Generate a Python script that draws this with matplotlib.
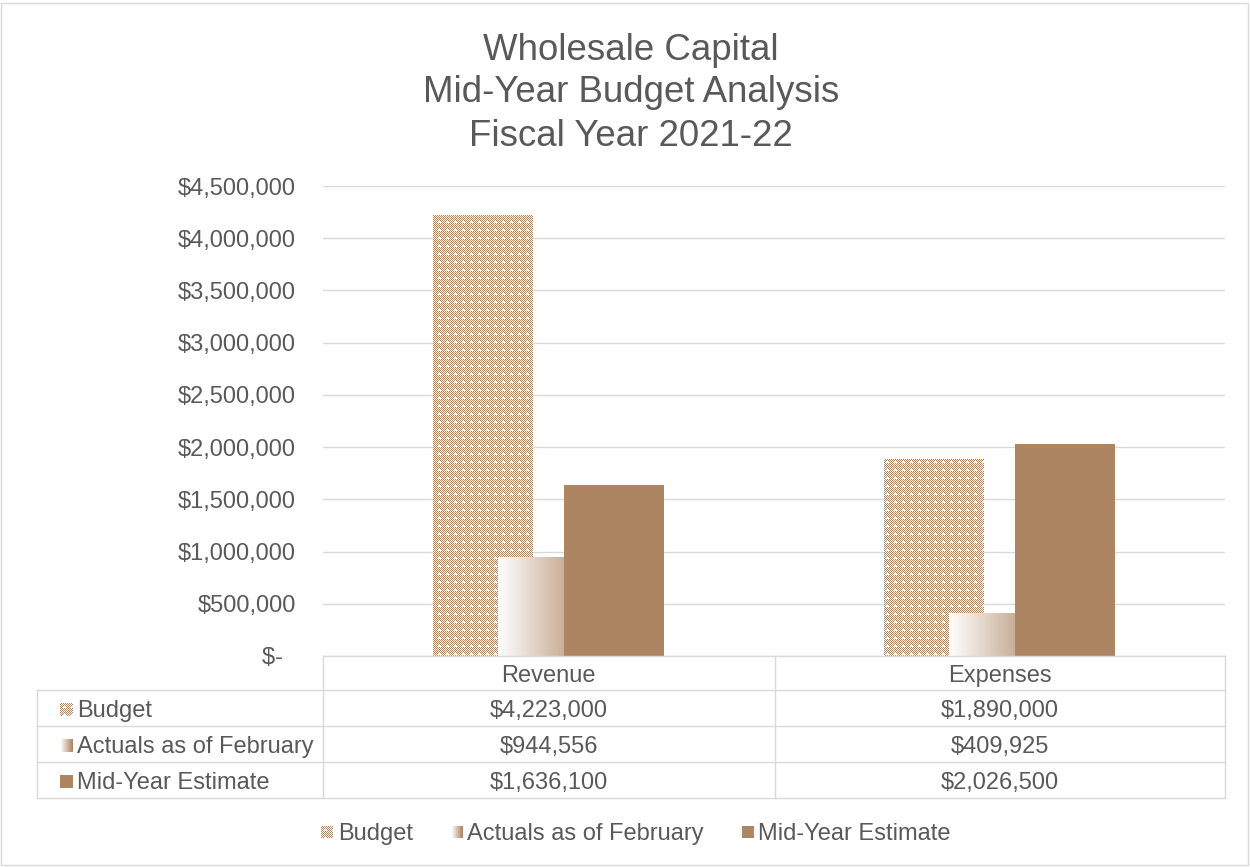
import numpy as np
import matplotlib
matplotlib.use('Agg')
import matplotlib.pyplot as plt
from matplotlib.patches import Rectangle
from matplotlib.lines import Line2D
from matplotlib.legend_handler import HandlerBase
from matplotlib.ticker import FuncFormatter

plt.rcParams['font.family'] = ['Liberation Sans', 'DejaVu Sans']

# ---------------- data ----------------
categories = ['Revenue', 'Expenses']
series = ['Budget', 'Actuals as of February', 'Mid-Year Estimate']
budget = [4223000, 1890000]
actuals = [944556, 409925]
midyear = [1636100, 2026500]
yticks = [0, 500000, 1000000, 1500000, 2000000, 2500000, 3000000, 3500000, 4000000, 4500000]
title_lines = ['Wholesale Capital', 'Mid-Year Budget Analysis', 'Fiscal Year 2021-22']

# ---------------- style ----------------
BROWN = np.array([174, 133, 99]) / 255.0
WHITE = np.array([1.0, 1.0, 1.0])
TXT = '#595959'
GRID = '#D9D9D9'
FS = 17

W, H = 1250, 867
fig = plt.figure(figsize=(W / 100, H / 100), dpi=100)


def fx(px):
    return px / W


def fy(py):
    return 1 - py / H


def pattern_mask(h, w, phase=1):
    yy, xx = np.mgrid[0:h, 0:w]
    brown = ((xx + yy) % 2 == phase)
    mx, my = xx % 8, yy % 8
    cross = ((mx == 4) & np.isin(my, [2, 3, 4])) | ((my == 4) & np.isin(mx, [3, 4, 5]))
    return brown & ~cross


def pattern(h, w, phase=1):
    return np.where(pattern_mask(h, w, phase)[..., None], BROWN, WHITE)


def gradient(w):
    t = np.linspace(0, 1, max(w, 2))
    row = WHITE[None, :] * (1 - t[:, None]) + BROWN[None, :] * t[:, None]
    return row[None, :, :]


# ---------------- axes ----------------
ax_l, ax_r, ax_b, ax_t = 323, 1225, 656, 186
ax = fig.add_axes([fx(ax_l), fy(ax_b), fx(ax_r) - fx(ax_l), fy(ax_t) - fy(ax_b)])
xlim = (-0.5, 1.5)
ylim = (0, 4500000)
px_per_x = (ax_r - ax_l) / (xlim[1] - xlim[0])

x = np.arange(len(categories))
off, bw = 0.146, 0.222

b1 = ax.bar(x - off, budget, bw, facecolor='none', edgecolor='none', zorder=2)
b2 = ax.bar(x, actuals, bw, facecolor='none', edgecolor='none', zorder=2.1)
b3 = ax.bar(x + off, midyear, bw, color=BROWN, edgecolor='none', zorder=2.2)

# one pixel-aligned RGBA texture covering the whole plot area; opaque only inside budget bars
ph, pw = ax_b - ax_t, ax_r - ax_l
tex = np.zeros((ph, pw, 4))
tex[..., :3] = pattern(ph, pw)
cx_data = xlim[0] + (np.arange(pw) + 0.5) / pw * (xlim[1] - xlim[0])
cy_data = ylim[1] - (np.arange(ph) + 0.5) / ph * (ylim[1] - ylim[0])
inside = np.zeros((ph, pw), dtype=bool)
for rect in b1:
    x0, w_, h_ = rect.get_x(), rect.get_width(), rect.get_height()
    inside |= ((cx_data[None, :] >= x0) & (cx_data[None, :] < x0 + w_)
               & (cy_data[:, None] <= h_))
tex[..., 3] = inside.astype(float)
ax.imshow(tex, extent=(xlim[0], xlim[1], ylim[0], ylim[1]), aspect='auto',
          interpolation='nearest', interpolation_stage='rgba', zorder=2, origin='upper')

for rect in b2:
    x0, w_, h_ = rect.get_x(), rect.get_width(), rect.get_height()
    img = gradient(int(round(w_ * px_per_x)))
    im = ax.imshow(img, extent=(x0, x0 + w_, 0, h_), aspect='auto',
                   interpolation='bilinear', zorder=2.1)
    im.set_clip_path(rect)

ax.set_xlim(*xlim)
ax.set_ylim(*ylim)
ax.set_yticks(yticks)
ax.yaxis.set_major_formatter(FuncFormatter(lambda v, p: '$-  ' if v == 0 else f'${v:,.0f}'))
ax.tick_params(axis='y', length=0, pad=19.4, labelsize=FS, labelcolor=TXT)
ax.set_xticks([])
ax.yaxis.grid(True, color=GRID, lw=1.0)
ax.set_axisbelow(True)
for s in ['top', 'left', 'right']:
    ax.spines[s].set_visible(False)
ax.spines['bottom'].set_color(GRID)
ax.spines['bottom'].set_linewidth(1.0)

# ---------------- title ----------------
for i, line in enumerate(title_lines):
    fig.text(fx(631), fy(50 + 43 * i), line, ha='center', va='center',
             fontsize=26.4, color=TXT)

# ---------------- data table ----------------
def hline(y, x0, x1):
    fig.add_artist(Line2D([fx(x0), fx(x1)], [fy(y), fy(y)], transform=fig.transFigure,
                          color=GRID, lw=1.0))


def vline(xp, y0, y1):
    fig.add_artist(Line2D([fx(xp), fx(xp)], [fy(y0), fy(y1)], transform=fig.transFigure,
                          color=GRID, lw=1.0))


rows_y = [690, 726, 762, 798]
for yy in rows_y:
    hline(yy, 37, 1225)
for xp in [323, 775, 1225]:
    vline(xp, 656, 798)
vline(37, 690, 798)

col_centers = [ax_l + (c - xlim[0]) * px_per_x for c in x]
for cx, cat in zip(col_centers, categories):
    fig.text(fx(cx), fy(676), cat, ha='center', va='center', fontsize=FS, color=TXT)

table_vals = [budget, actuals, midyear]
mk = 13
marker_imgs = [pattern(mk, mk, 1), np.repeat(gradient(mk), mk, axis=0),
               np.tile(BROWN, (mk, mk, 1))]
for r, (name, vals) in enumerate(zip(series, table_vals)):
    yc = (rows_y[r] + rows_y[r + 1]) / 2
    fig.text(fx(77), fy(yc + 3), name, ha='left', va='center', fontsize=FS, color=TXT)
    for cx, v in zip(col_centers, vals):
        fig.text(fx(cx), fy(yc + 3), f'${v:,.0f}', ha='center', va='center',
                 fontsize=FS, color=TXT)
    max_ = fig.add_axes([fx(60), fy(yc + 8), mk / W, mk / H])
    max_.imshow(marker_imgs[r], aspect='auto', interpolation='nearest')
    max_.axis('off')

# ---------------- legend ----------------
class ImgHandler(HandlerBase):
    def __init__(self, arr, size_pt):
        super().__init__()
        self.arr = arr
        self.size = size_pt

    def create_artists(self, legend, orig_handle, xdescent, ydescent, width, height,
                       fontsize, trans):
        nr, nc = self.arr.shape[:2]
        s = self.size
        x0 = -xdescent + (width - s) / 2
        y0 = -ydescent + (height - s) / 2
        arts = []
        for i in range(nr):
            for j in range(nc):
                arts.append(Rectangle((x0 + j * s / nc, y0 + (nr - 1 - i) * s / nr),
                                      s / nc, s / nr, facecolor=self.arr[i, j],
                                      edgecolor='none', transform=trans))
        return arts


leg_px = 12
leg_imgs = [pattern(leg_px, leg_px, 1), np.repeat(gradient(leg_px), leg_px, axis=0),
            np.tile(BROWN, (leg_px, leg_px, 1))]
handles = [Rectangle((0, 0), 1, 1) for _ in series]
hmap = {h: ImgHandler(img, leg_px * 0.72) for h, img in zip(handles, leg_imgs)}
fig.legend(handles=handles, labels=series, handler_map=hmap, loc='center',
           bbox_to_anchor=(fx(636), fy(834)), ncol=3, frameon=False, fontsize=FS,
           labelcolor=TXT, handlelength=leg_px * 0.72 / FS, handletextpad=0.2,
           columnspacing=1.6)

# ---------------- chart border ----------------
fig.add_artist(Rectangle((fx(1), fy(865)), fx(1248) - fx(1), fy(3) - fy(865),
                         transform=fig.transFigure, fill=False, edgecolor=GRID, lw=1.0))

fig.savefig('out.png', dpi=100)
